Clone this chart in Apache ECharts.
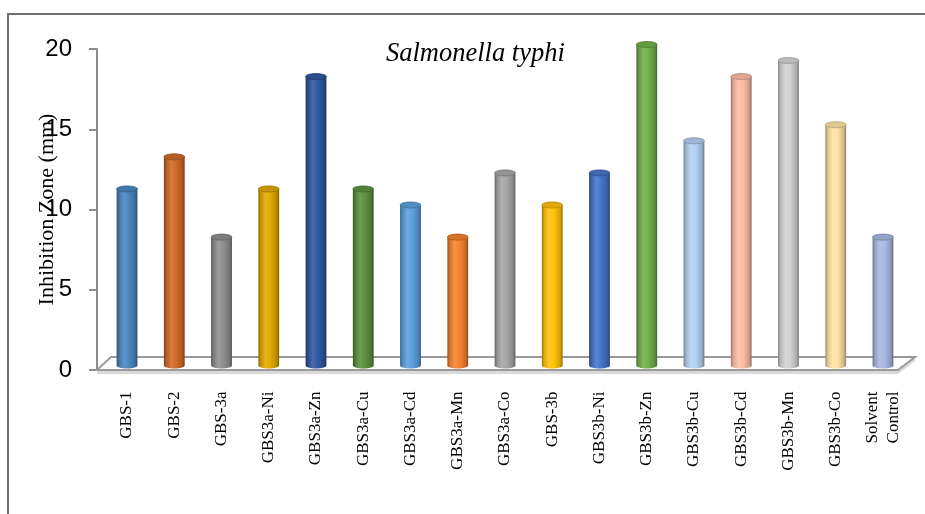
<!DOCTYPE html>
<html>
<head>
<meta charset="utf-8">
<script src="https://cdn.jsdelivr.net/npm/echarts@6/dist/echarts.min.js"></script>
<style>
  html, body { margin: 0; padding: 0; background: #ffffff; }
  #chart { width: 925px; height: 514px; }
</style>
</head>
<body>
<div id="chart"></div>
<script>
// Inhibition zone (mm) against Salmonella typhi
const categories = [
  'GBS-1', 'GBS-2', 'GBS-3a', 'GBS3a-Ni', 'GBS3a-Zn', 'GBS3a-Cu', 'GBS3a-Cd',
  'GBS3a-Mn', 'GBS3a-Co', 'GBS-3b', 'GBS3b-Ni', 'GBS3b-Zn', 'GBS3b-Cu',
  'GBS3b-Cd', 'GBS3b-Mn', 'GBS3b-Co', 'Solvent\nControl'
];
const inhibitionZone = [11, 13, 8, 11, 18, 11, 10, 8, 12, 10, 12, 20, 14, 18, 19, 15, 8];
const barColors = [
  '#4a86c0', '#d06a28', '#8e8e8e', '#e0a800', '#3057a0', '#5b9140', '#5b9fdc',
  '#f5822f', '#a6a6a6', '#ffc20a', '#4474c8', '#72b04a', '#b3d0f0', '#fdbda6',
  '#d2d2d2', '#ffe1a3', '#a8b8e2'
];
const yMin = 0, yMax = 20, yInterval = 5;
const chartTitle = 'Salmonella typhi';
const yAxisTitle = 'Inhibition Zone (mm)';

// layout: front plane (value axis) and middle plane (bars) of the 3-D floor
const W = 925, H = 514;
const front = { left: 97, right: 27, top: 49, bottom: 144 };
const mid = { left: 103.4, right: 18.4, top: 44.5, bottom: 148.5 };
const depth = { dx: 14, dy: 13 };

function shade(hex, amt) {
  const n = parseInt(hex.slice(1), 16);
  let r = (n >> 16) & 255, g = (n >> 8) & 255, b = n & 255;
  const f = c => amt < 0 ? Math.round(c * (1 + amt)) : Math.round(c + (255 - c) * amt);
  r = f(r); g = f(g); b = f(b);
  return 'rgb(' + r + ',' + g + ',' + b + ')';
}

function renderCylinder(params, api) {
  const i = api.value(0);
  const v = api.value(1);
  const top = api.coord([i, v]);
  const base = api.coord([i, 0]);
  const w = api.size([1, 0])[0] * 0.44;
  const rx = w / 2, ry = 3;
  const c = barColors[i];
  const grad = new echarts.graphic.LinearGradient(0, 0, 1, 0, [
    { offset: 0, color: shade(c, -0.38) },
    { offset: 0.12, color: shade(c, -0.12) },
    { offset: 0.35, color: shade(c, 0.12) },
    { offset: 0.6, color: c },
    { offset: 0.88, color: shade(c, -0.18) },
    { offset: 1, color: shade(c, -0.42) }
  ]);
  return {
    type: 'group',
    children: [
      { type: 'ellipse', shape: { cx: top[0], cy: base[1], rx: rx, ry: ry }, style: { fill: grad } },
      { type: 'rect', shape: { x: top[0] - rx, y: top[1], width: w, height: base[1] - top[1] }, style: { fill: grad } },
      { type: 'ellipse', shape: { cx: top[0], cy: top[1], rx: rx, ry: ry },
        style: { fill: shade(c, -0.12), stroke: shade(c, -0.3), lineWidth: 0.8 } }
    ]
  };
}

// floor of the 3-D plot area
const fx0 = front.left, fx1 = W - front.right, fy = H - front.bottom;
const floorGraphics = [
  { type: 'polygon', z: 0, shape: { points: [[fx0, fy], [fx1, fy], [fx1, fy + 4], [fx0, fy + 4]] },
    style: { fill: '#d9d9d9' } },
  { type: 'polygon', z: 0, shape: { points: [[fx1, fy], [fx1 + depth.dx + 3, fy - depth.dy], [fx1 + depth.dx + 3, fy - depth.dy + 4], [fx1, fy + 4]] },
    style: { fill: '#d9d9d9' } },
  { type: 'polygon', z: 1, shape: { points: [[fx0, fy], [fx1, fy], [fx1 + depth.dx + 3, fy - depth.dy], [fx0 + depth.dx, fy - depth.dy]] },
    style: { fill: 'none', stroke: '#9a9a9a', lineWidth: 2 } },
  // chart frame
  { type: 'rect', z: 0, shape: { x: 8, y: 14, width: 960, height: 560 },
    style: { fill: 'none', stroke: '#6e6e6e', lineWidth: 2 } }
];

const chart = echarts.init(document.getElementById('chart'), null, { renderer: 'canvas' });
chart.setOption({
  backgroundColor: '#ffffff',
  animation: false,
  title: {
    text: chartTitle, left: 381, top: 36,
    textStyle: { fontFamily: "'Liberation Serif', 'Times New Roman', serif", fontStyle: 'italic',
      fontWeight: 'normal', fontSize: 26.5, color: '#000000' }
  },
  graphic: floorGraphics,
  grid: [
    { left: front.left, right: front.right, top: front.top, bottom: front.bottom },
    { left: mid.left, right: mid.right, top: mid.top, bottom: mid.bottom }
  ],
  xAxis: [
    { type: 'value', gridIndex: 0, show: false, min: 0, max: 1 },
    {
      type: 'category', gridIndex: 1, data: categories,
      axisLine: { show: false }, axisTick: { show: false },
      axisLabel: {
        rotate: 90, margin: 26, interval: 0,
        fontFamily: "'Liberation Serif', 'Times New Roman', serif", fontSize: 17,
        color: '#000000', lineHeight: 21
      }
    }
  ],
  yAxis: [
    {
      type: 'value', gridIndex: 0, min: yMin, max: yMax, interval: yInterval,
      name: yAxisTitle, nameLocation: 'middle', nameGap: 39, nameRotate: 90,
      nameMoveOverlap: false,
      nameTextStyle: { fontFamily: "'Liberation Serif', 'Times New Roman', serif", fontSize: 22, color: '#000000' },
      axisLine: { show: true, lineStyle: { color: '#8c8c8c', width: 2 } },
      axisTick: { show: true, length: 8, lineStyle: { color: '#8c8c8c', width: 2 } },
      axisLabel: { margin: 25, fontFamily: "'Liberation Sans Narrow', 'Liberation Sans', Arial, sans-serif",
        fontSize: 24, color: '#000000' },
      splitLine: { show: false }
    },
    { type: 'value', gridIndex: 1, min: yMin, max: yMax, show: false, splitLine: { show: false } }
  ],
  series: [{
    type: 'custom', xAxisIndex: 1, yAxisIndex: 1, z: 5,
    renderItem: renderCylinder,
    data: inhibitionZone.map((v, i) => [i, v])
  }]
});
</script>
</body>
</html>
